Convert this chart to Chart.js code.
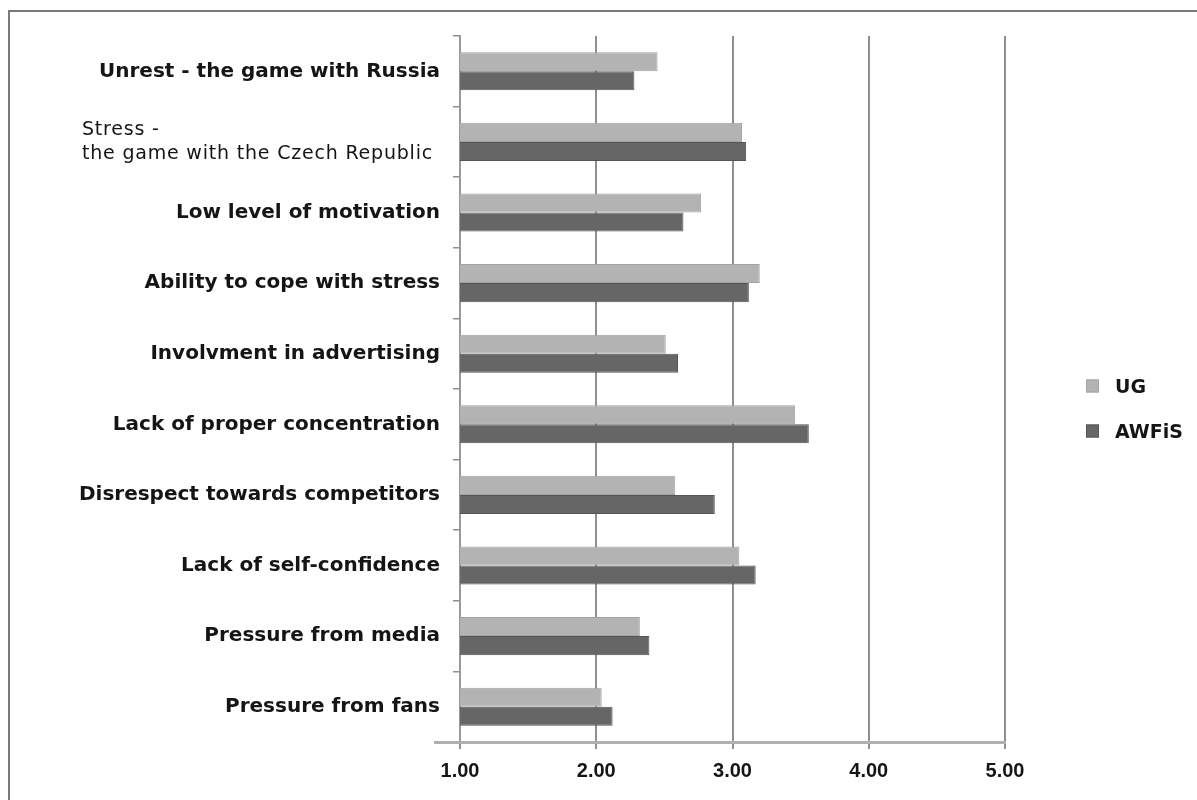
<!DOCTYPE html>
<html><head><meta charset="utf-8">
<script src="https://cdn.jsdelivr.net/npm/chart.js@4/dist/chart.umd.min.js"></script>
<style>html,body{margin:0;padding:0;background:#fff}#wrap{width:1197px;height:800px;position:relative}</style>
</head><body><div id="wrap"><canvas id="c" width="1197" height="800"></canvas></div>
<script>
const categories = [
  'Unrest - the game with Russia',
  ['Stress -', 'the game with the Czech Republic'],
  'Low level of motivation',
  'Ability to cope with stress',
  'Involvment in advertising',
  'Lack of proper concentration',
  'Disrespect towards competitors',
  'Lack of self-confidence',
  'Pressure from media',
  'Pressure from fans'
];
const ugValues    = [2.45, 3.07, 2.77, 3.20, 2.51, 3.46, 2.58, 3.05, 2.32, 2.04];
const awfisValues = [2.28, 3.10, 2.64, 3.12, 2.60, 3.56, 2.87, 3.17, 2.39, 2.12];
const seriesLabels = ['UG', 'AWFiS'];
const xTickValues = [1, 2, 3, 4, 5];

const ugColor = '#b3b3b3', ugBorder = '#a3a3a3';
const awColor = '#666666', awBorder = '#555555';
const textColor = '#151515';

const decor = {
  id: 'decor',
  beforeDraw(chart) {
    const ctx = chart.ctx;
    ctx.save();
    ctx.fillStyle = '#fff';
    ctx.fillRect(0, 0, chart.width, chart.height);
    ctx.strokeStyle = '#7a7a7a';
    ctx.lineWidth = 2;
    ctx.beginPath();
    ctx.moveTo(9, chart.height);
    ctx.lineTo(9, 11);
    ctx.lineTo(chart.width, 11);
    ctx.stroke();
    ctx.restore();
  },
  afterDraw(chart) {
    const ctx = chart.ctx;
    const area = chart.chartArea;
    const ys = chart.scales.y;
    ctx.save();
    // extend bottom axis line slightly to the left
    ctx.strokeStyle = '#b0b0b0';
    ctx.lineWidth = 3;
    ctx.beginPath();
    ctx.moveTo(area.left - 26, area.bottom + 0.5);
    ctx.lineTo(area.left, area.bottom + 0.5);
    ctx.stroke();
    // category labels
    ctx.fillStyle = textColor;
    ctx.textBaseline = 'middle';
    categories.forEach((lab, i) => {
      const y = ys.getPixelForValue(i);
      if (Array.isArray(lab)) {
        ctx.font = '19px "DejaVu Sans"';
        if ('letterSpacing' in ctx) ctx.letterSpacing = '0.8px';
        ctx.textAlign = 'left';
        const w = Math.max(...lab.map(s => ctx.measureText(s).width));
        const x0 = area.left - 27 - w;
        const lh = 24;
        lab.forEach((s, k) => {
          ctx.fillText(s, x0, y + (k - (lab.length - 1) / 2) * lh);
        });
        if ('letterSpacing' in ctx) ctx.letterSpacing = '0px';
      } else {
        ctx.font = 'bold 20px "DejaVu Sans"';
        ctx.textAlign = 'right';
        ctx.fillText(lab, area.left - 20, y);
      }
    });
    // legend
    const midY = (area.top + area.bottom) / 2;
    chart.data.datasets.forEach((ds, i) => {
      const cy = midY - 3 + i * 45;
      const bx = area.right + 81;
      ctx.fillStyle = ds.backgroundColor;
      ctx.fillRect(bx, cy - 6.5, 13, 13);
      ctx.strokeStyle = ds.borderColor;
      ctx.lineWidth = 1;
      ctx.strokeRect(bx + 0.5, cy - 6, 12, 12);
      ctx.fillStyle = textColor;
      ctx.font = 'bold 19px "DejaVu Sans"';
      ctx.textAlign = 'left';
      ctx.fillText(ds.label, bx + 29, cy + 2);
    });
    ctx.restore();
  }
};

new Chart(document.getElementById('c'), {
  type: 'bar',
  data: {
    labels: categories,
    datasets: [
      { label: seriesLabels[0], data: ugValues, backgroundColor: ugColor, borderColor: ugBorder, borderWidth: 1,
        categoryPercentage: 0.54, barPercentage: 1.0 },
      { label: seriesLabels[1], data: awfisValues, backgroundColor: awColor, borderColor: awBorder, borderWidth: 1,
        categoryPercentage: 0.54, barPercentage: 1.0 }
    ]
  },
  options: {
    indexAxis: 'y',
    responsive: false,
    animation: false,
    devicePixelRatio: 1,
    layout: { padding: { top: 36, right: 192, left: 0, bottom: 0 } },
    plugins: { legend: { display: false }, tooltip: { enabled: false } },
    scales: {
      x: {
        type: 'linear', min: 1, max: 5, position: 'bottom',
        afterBuildTicks(s) { s.ticks = xTickValues.map(v => ({ value: v })); },
        ticks: {
          callback: v => Number(v).toFixed(2),
          font: { family: 'Liberation Sans', size: 20, weight: 'bold' },
          color: textColor, padding: 10, maxRotation: 0
        },
        grid: { color: '#8f8f8f', lineWidth: 2, drawTicks: true, tickLength: 7, tickColor: '#8f8f8f', tickWidth: 2 },
        border: { display: true, color: '#b0b0b0', width: 3 },
        afterFit(s) { s.height = 58; }
      },
      y: {
        type: 'category',
        grid: { display: true, drawOnChartArea: false, drawTicks: true, tickLength: 7, color: '#8f8f8f', lineWidth: 1.5, offset: true },
        border: { display: true, color: '#9a9a9a', width: 2 },
        ticks: { display: false },
        afterFit(s) { s.width = 460; }
      }
    }
  },
  plugins: [decor]
});
</script>
</body></html>
